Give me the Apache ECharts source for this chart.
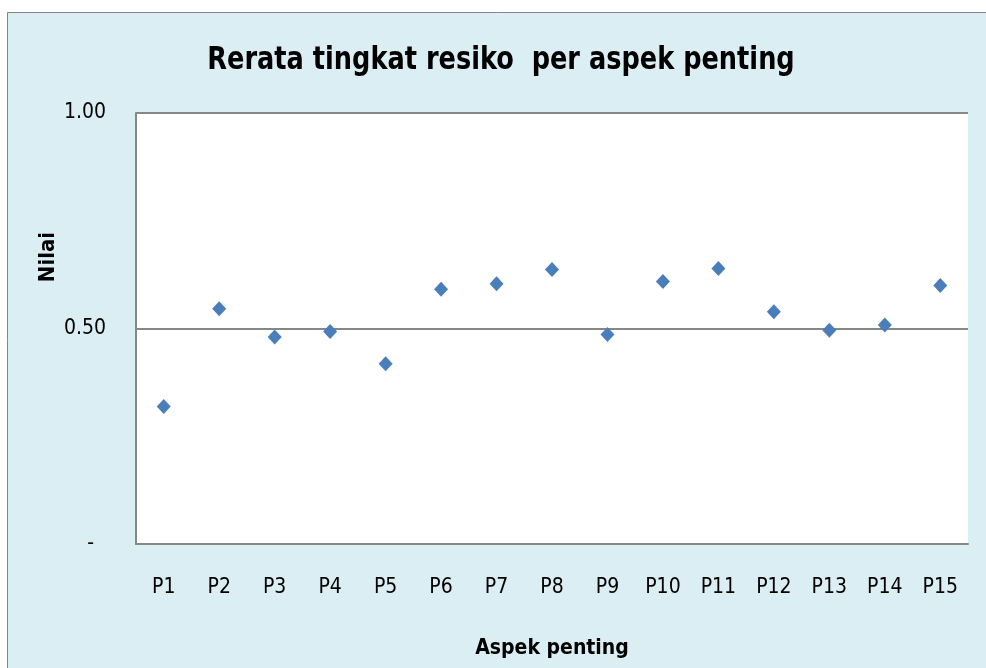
<!DOCTYPE html>
<html>
<head>
<meta charset="utf-8">
<script src="https://cdn.jsdelivr.net/npm/echarts@6/dist/echarts.min.js"></script>
<style>
  html, body { margin: 0; padding: 0; background: #fff; }
  #chart { width: 986px; height: 668px; }
</style>
</head>
<body>
<div id="chart"></div>
<script>
// aspek penting P1..P15
const categories = ['P1', 'P2', 'P3', 'P4', 'P5', 'P6', 'P7', 'P8', 'P9', 'P10', 'P11', 'P12', 'P13', 'P14', 'P15'];
// rerata nilai
const nilai = [0.319, 0.546, 0.480, 0.493, 0.418, 0.591, 0.604, 0.637, 0.486, 0.609, 0.639, 0.539, 0.496, 0.508, 0.600];

const judul = 'Rerata tingkat resiko  per aspek penting';
const fontUI = '"DejaVu Sans Condensed", "Open Sans", sans-serif';
const lineGrey = '#868686';

const chart = echarts.init(document.getElementById('chart'));

chart.setOption({
  animation: false,
  graphic: [
    {
      // bingkai chart
      type: 'rect',
      z: -10,
      shape: { x: 7.5, y: 12.5, width: 1000, height: 700 },
      style: { fill: '#DBEEF4', stroke: lineGrey, lineWidth: 1 }
    },
    {
      // judul, dipadatkan supaya mirip Calibri
      type: 'text',
      x: 501, y: 45,
      scaleX: 0.89,
      style: {
        text: judul,
        font: 'bold 32px ' + fontUI,
        fill: '#000',
        align: 'center',
        verticalAlign: 'top'
      }
    },
    {
      // nama sumbu Y
      type: 'text',
      x: 48, y: 257,
      rotation: Math.PI / 2,
      style: {
        text: 'Nilai',
        font: 'bold 22px ' + fontUI,
        fill: '#000',
        align: 'center',
        verticalAlign: 'middle'
      }
    }
  ],
  grid: {
    left: 136, top: 113, right: 18, bottom: 124,
    show: true, backgroundColor: '#fff', borderWidth: 0
  },
  xAxis: {
    type: 'category',
    data: categories,
    boundaryGap: true,
    name: 'Aspek penting',
    nameLocation: 'middle',
    nameGap: 94,
    nameTextStyle: { fontFamily: fontUI, fontSize: 21, fontWeight: 'bold', color: '#000' },
    axisLine: { lineStyle: { color: lineGrey, width: 2 } },
    axisTick: { show: false },
    axisLabel: { fontFamily: fontUI, fontSize: 21, color: '#000', margin: 33 }
  },
  yAxis: {
    type: 'value',
    min: 0, max: 1, interval: 0.5,
    axisLine: { show: true, lineStyle: { color: lineGrey, width: 2 } },
    axisTick: { show: false },
    splitLine: { lineStyle: { color: lineGrey, width: 2 } },
    axisLabel: {
      fontFamily: fontUI, fontSize: 21, color: '#000', margin: 30,
      formatter: v => v === 0 ? '{nol|-}' : v.toFixed(2),
      rich: {
        nol: { fontFamily: fontUI, fontSize: 21, color: '#000', padding: [0, 12, 0, 0] }
      }
    }
  },
  series: [{
    type: 'scatter',
    data: nilai,
    symbol: 'diamond',
    symbolSize: [14, 15],
    itemStyle: { color: '#4A7EBB', opacity: 1 }
  }]
});
</script>
</body>
</html>
